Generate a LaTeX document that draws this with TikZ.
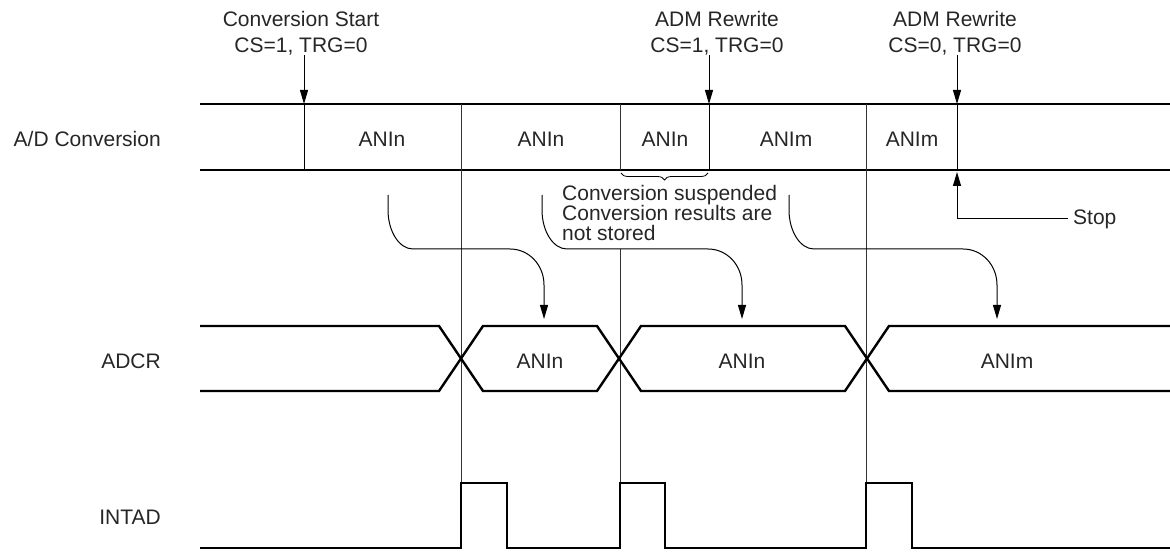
\documentclass[tikz,border=0pt]{standalone}
\usepackage{fontspec}
\setmainfont{Liberation Sans}
\usetikzlibrary{arrows.meta,decorations.pathreplacing}
\begin{document}
\begin{tikzpicture}[x=1pt,y=-1pt,
  txt/.style={font=\fontsize{21}{26}\selectfont, text=black!85, inner sep=0pt},
  band/.style={line width=2.4pt, line join=miter},
  thinline/.style={line width=0.8pt, black!80},
  tickline/.style={line width=0.9pt},
  arr/.style={line width=1pt, -{Triangle[length=14pt,width=8pt]}},
]
\useasboundingbox (0,0) rectangle (1170,553);

% ---------- row labels ----------
\node[txt, anchor=base east] (lad) at (161,147) {A/D Conversion};
\node[txt, anchor=base east] (ladcr) at (161,368) {ADCR};
\node[txt, anchor=base east] (lint) at (161,524) {INTAD};

% ---------- A/D conversion band ----------
\draw[band] (200,104) -- (1170,104);
\draw[band] (200,170) -- (1170,170);
\coordinate (t1) at (304,104);
\coordinate (t2) at (709,104);
\coordinate (t3) at (957,104);
\draw[tickline] (t1) -- (304,170);
\draw[tickline] (t2) -- (709,170);
\draw[tickline] (t3) -- (957,170);

\node[txt, anchor=base] (a1) at (382,147) {ANIn};
\node[txt, anchor=base] (a2) at (541,147) {ANIn};
\node[txt, anchor=base] (a3) at (665,147) {ANIn};
\node[txt, anchor=base] (a4) at (786,147) {ANIm};
\node[txt, anchor=base] (a5) at (912,147) {ANIm};

% ---------- vertical guide lines ----------
\draw[thinline] (461,104) -- (461,483);
\draw[thinline] (620,104) -- (620,170);
\draw[thinline] (620,249) -- (620,483);
\draw[thinline] (866,104) -- (866,483);

% ---------- top labels and arrows ----------
\node[txt, align=center, anchor=north] (lbl1) at (301,11) {Conversion Start\\CS=1, TRG=0};
\node[txt, align=center, anchor=north] (lbl2) at (717,11) {ADM Rewrite\\CS=1, TRG=0};
\node[txt, align=center, anchor=north] (lbl3) at (955,11) {ADM Rewrite\\CS=0, TRG=0};
\draw[arr] (lbl1.south -| t1) -- (t1);
\draw[arr] (lbl2.south -| t2) -- (t2);
\draw[arr] (lbl3.south -| t3) -- (t3);

% ---------- brace and note ----------
\draw[decorate, decoration={brace, amplitude=7pt}, line width=0.8pt] (708,173) -- (621,173);
\node[txt, align=left, anchor=north west, font=\fontsize{21}{20.2}\selectfont] (note) at (562,185)
  {Conversion suspended\\Conversion results are\\not stored};

% ---------- Stop ----------
\coordinate (st) at (957,172);
\node[txt, anchor=west, inner xsep=5pt] (stop) at (1068,219) {Stop};
\draw[arr] (stop.west) -| (st);

% ---------- curved transfer arrows ----------
\coordinate (c1s) at (388,195); \coordinate (c1e) at (544,319);
\coordinate (c2s) at (542,195); \coordinate (c2e) at (742,319);
\coordinate (c3s) at (789,195); \coordinate (c3e) at (997,319);
\draw[arr] (c1s) -- (388,210) .. controls (388,231) and (399,249) .. (413,249)
  -- (510,249) .. controls (529,249) and (544,265) .. (544,285) -- (c1e);
\draw[arr] (c2s) -- (542,210) .. controls (542,231) and (553,249) .. (567,249)
  -- (708,249) .. controls (727,249) and (742,265) .. (742,285) -- (c2e);
\draw[arr] (c3s) -- (789,210) .. controls (789,231) and (800,249) .. (814,249)
  -- (963,249) .. controls (982,249) and (997,265) .. (997,285) -- (c3e);

% ---------- ADCR ----------
\draw[band] (200,326) -- (439,326) -- (483,391) -- (597,391) -- (641,326) -- (845,326) -- (889,391) -- (1170,391);
\draw[band] (200,391) -- (439,391) -- (483,326) -- (597,326) -- (641,391) -- (845,391) -- (889,326) -- (1170,326);
\node[txt, anchor=base] (d1) at (540,368) {ANIn};
\node[txt, anchor=base] (d2) at (742,368) {ANIn};
\node[txt, anchor=base] (d3) at (1007,368) {ANIm};

% ---------- INTAD ----------
\draw[band] (200,548) -- (461,548) -- (461,483) -- (507,483) -- (507,548)
  -- (620,548) -- (620,483) -- (665,483) -- (665,548)
  -- (866,548) -- (866,483) -- (912,483) -- (912,548) -- (1170,548);
\end{tikzpicture}
\end{document}
